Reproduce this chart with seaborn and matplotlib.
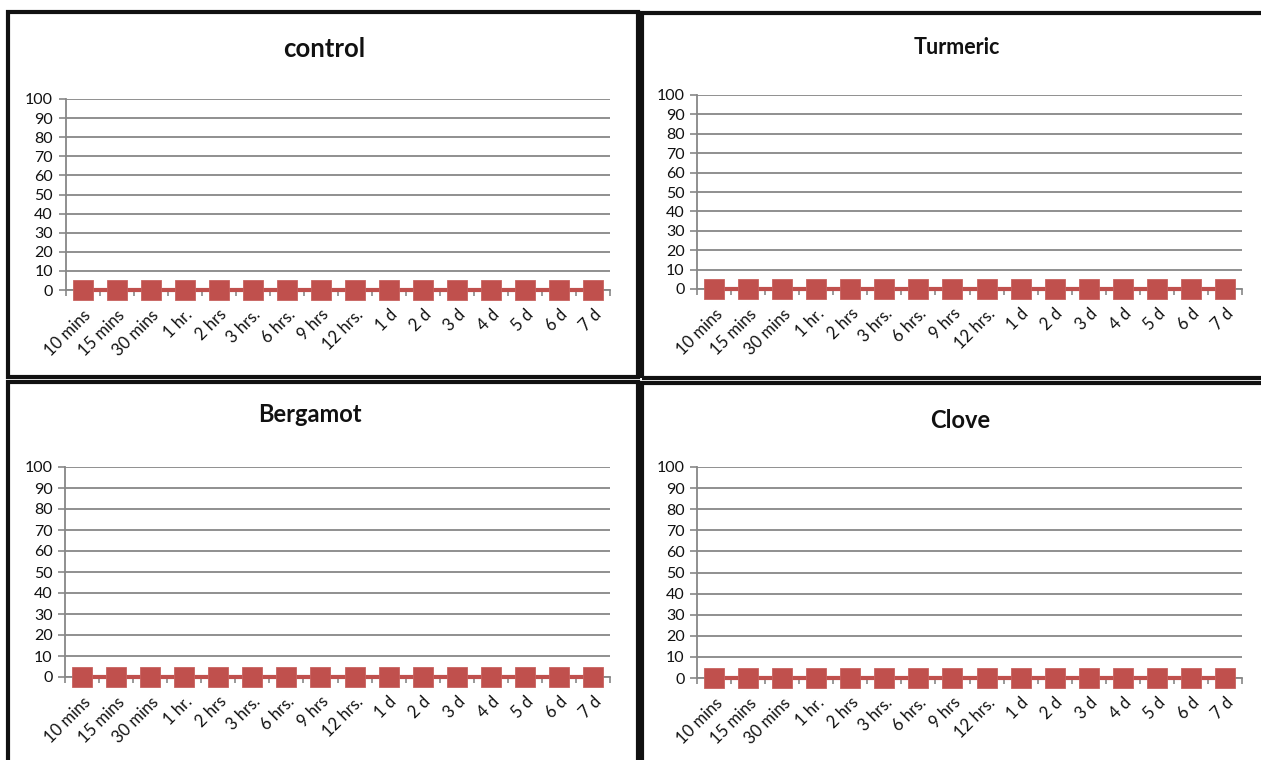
import numpy as np
import pandas as pd
import matplotlib
matplotlib.use("Agg")
import matplotlib.pyplot as plt
from matplotlib.patches import Rectangle
import seaborn as sns

# Sampling times shared by all four treatments
times = ["10 mins", "15 mins", "30 mins", "1 hr.", "2 hrs", "3 hrs.", "6 hrs.",
         "9 hrs", "12 hrs.", "1 d", "2 d", "3 d", "4 d", "5 d", "6 d", "7 d"]

control = [0, 0, 0, 0, 0, 0, 0, 0, 0, 0, 0, 0, 0, 0, 0, 0]
turmeric = [0, 0, 0, 0, 0, 0, 0, 0, 0, 0, 0, 0, 0, 0, 0, 0]
bergamot = [0, 0, 0, 0, 0, 0, 0, 0, 0, 0, 0, 0, 0, 0, 0, 0]
clove = [0, 0, 0, 0, 0, 0, 0, 0, 0, 0, 0, 0, 0, 0, 0, 0]

y_ticks = [0, 10, 20, 30, 40, 50, 60, 70, 80, 90, 100]

sns.set_theme(style="white")
plt.rcParams["font.family"] = ["Lato", "DejaVu Sans"]

W, H = 1261, 760
fig = plt.figure(figsize=(W / 100, H / 100), dpi=100)
fig.patch.set_facecolor("white")

RED = "#C0504D"
GRID = "#878787"


def px_axes(left, top, right, bottom):
    return fig.add_axes([left / W, 1 - bottom / H, (right - left) / W, (bottom - top) / H])


def panel_frame(x0, y0, x1, y1):
    fig.patches.append(Rectangle((x0 / W, 1 - y1 / H), (x1 - x0) / W, (y1 - y0) / H,
                                 transform=fig.transFigure, fill=False,
                                 edgecolor="#111111", linewidth=3.0, zorder=0))


def draw_panel(ax, values, title, title_xy, title_size):
    df = pd.DataFrame({"time": times, "value": values})
    sns.lineplot(data=df, x="time", y="value", ax=ax, sort=False,
                 color=RED, linewidth=3.0, marker="s", markersize=14,
                 markeredgecolor="#C8625F", markeredgewidth=0.6,
                 clip_on=False, zorder=5)
    ax.set_xlim(-0.5, len(times) - 0.5)
    ax.set_ylim(0, 100)
    ax.set_yticks(y_ticks)
    ax.set_yticklabels([str(v) for v in y_ticks], fontsize=11.5, color="#111111")
    ax.set_xticks(range(len(times)))
    ax.set_xticklabels(times, rotation=45, ha="right", rotation_mode="anchor",
                       fontsize=12, color="#111111")
    ax.set_xticks(np.arange(-0.5, len(times), 1), minor=True)
    ax.tick_params(axis="x", which="major", length=0, pad=12)
    ax.tick_params(axis="x", which="minor", length=4, width=1.2, color=GRID,
                   direction="out", bottom=True)
    ax.tick_params(axis="y", which="major", length=5, width=1.2, color=GRID,
                   direction="out", left=True, pad=4)
    ax.yaxis.grid(True, color=GRID, linewidth=1.3)
    ax.xaxis.grid(False)
    ax.set_axisbelow(True)
    for side in ("top", "right"):
        ax.spines[side].set_visible(False)
    for side in ("left", "bottom"):
        ax.spines[side].set_color(GRID)
        ax.spines[side].set_linewidth(1.3)
    ax.set_xlabel("")
    ax.set_ylabel("")
    ax.set_facecolor("none")
    fig.text(title_xy[0] / W, 1 - title_xy[1] / H, title, ha="center", va="center",
             fontsize=title_size, fontweight="bold", color="#111111")


# Panel outlines
panel_frame(8, 12, 638, 377)
panel_frame(642, 13, 1266, 378)
panel_frame(8, 382, 638, 772)
panel_frame(642, 383, 1266, 772)

ax_tl = px_axes(65.5, 99, 610, 290)
ax_tr = px_axes(697, 95, 1242, 289)
ax_bl = px_axes(65, 467, 610, 677)
ax_br = px_axes(697, 467, 1242, 678)

draw_panel(ax_tl, control, "control", (324, 49), 18.5)
draw_panel(ax_tr, turmeric, "Turmeric", (957, 47), 15.5)
draw_panel(ax_bl, bergamot, "Bergamot", (310, 415), 17)
draw_panel(ax_br, clove, "Clove", (960, 420), 17)

fig.savefig("out.png", dpi=100, facecolor="white")
